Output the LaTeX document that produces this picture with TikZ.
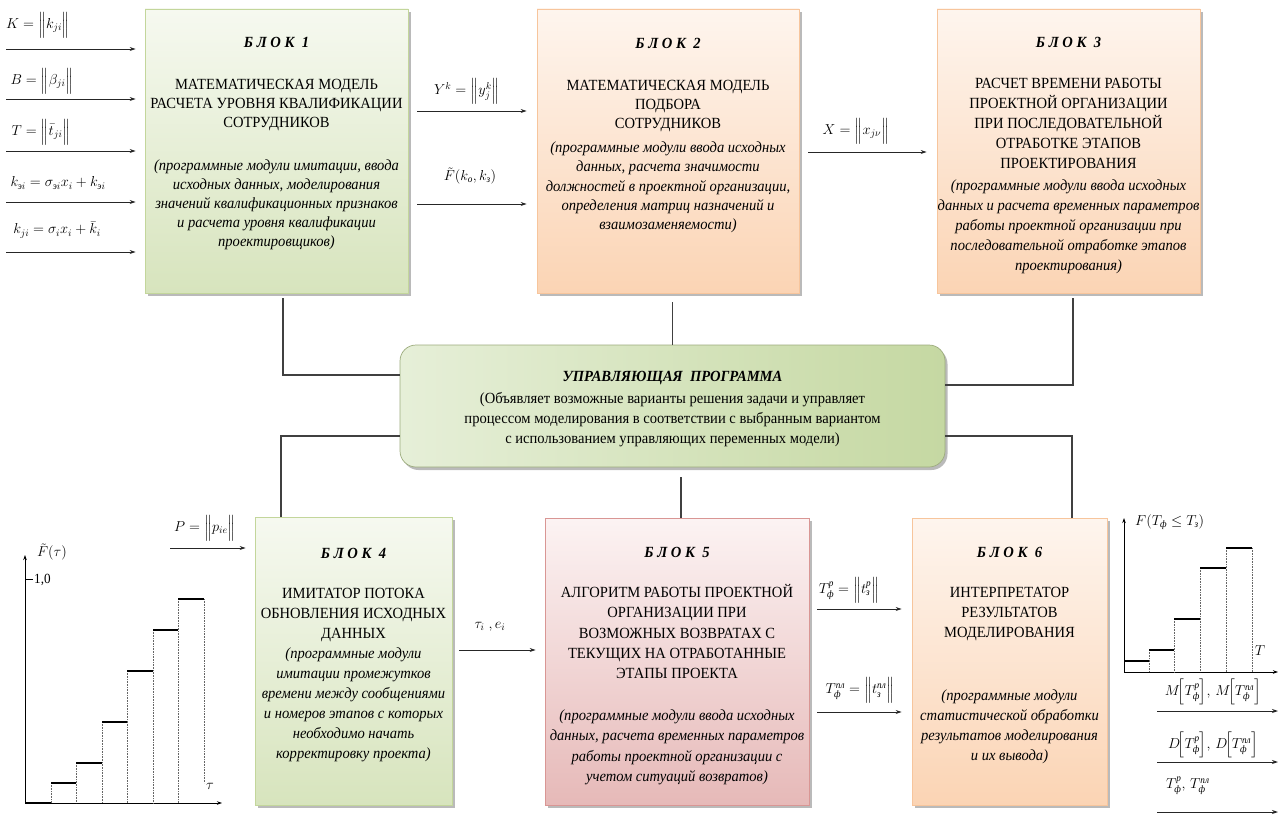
\documentclass[tikz,border=0pt]{standalone}
\usepackage{fontspec}
\usepackage{amsmath}
\setmainfont{Liberation Serif}[FakeStretch=0.94]
\usetikzlibrary{arrows.meta,shadows,calc}
\definecolor{gtop}{HTML}{F6F9F0}
\definecolor{gbot}{HTML}{D7E4BD}
\definecolor{gline}{HTML}{C3D69B}
\definecolor{otop}{HTML}{FEF5EE}
\definecolor{obot}{HTML}{FBD4B4}
\definecolor{oline}{HTML}{F7C59C}
\definecolor{ptop}{HTML}{FCF3F3}
\definecolor{pbot}{HTML}{E6B9B8}
\definecolor{pline}{HTML}{D99694}
\definecolor{cpl}{HTML}{E6EFD8}
\definecolor{cpr}{HTML}{C5D8A2}
\definecolor{connc}{HTML}{404040}
\newcommand\cyrsub[1]{\text{\itshape #1}}
\newcommand\blkttl[1]{\textbf{\textit{#1}}}
\begin{document}
\begin{tikzpicture}[x=1pt,y=-1pt,
  shd/.style={drop shadow={shadow xshift=2.5pt,shadow yshift=-3pt,opacity=0.45,fill=black!60}},
  gbox/.style={shd,draw=gline,line width=0.7pt,top color=gtop,bottom color=gbot,inner sep=0},
  obox/.style={shd,draw=oline,line width=0.7pt,top color=otop,bottom color=obot,inner sep=0},
  pbox/.style={shd,draw=pline,line width=0.7pt,top color=ptop,bottom color=pbot,inner sep=0},
  txt/.style={align=center,inner sep=0,anchor=north,font=\fontsize{15.5}{#1}\selectfont},
  txt/.default=19.5,
  lbl/.style={inner sep=0,font=\fontsize{14}{16}\selectfont},
  arr/.style={draw=black!85,line width=0.9pt,-{Stealth[length=6pt,width=4pt]}},
  conn/.style={draw=connc,line width=1.2pt},
  stepbar/.style={line width=2.2pt,black},
  dots/.style={densely dotted,line width=0.6pt,black!60},
  axis/.style={line width=0.8pt,black,-{Stealth[length=5pt,width=3.5pt]}}]
\useasboundingbox (0,0) rectangle (1280,816);

% ---------- boxes ----------
\node[gbox,minimum width=263pt,minimum height=284pt] (b1) at (276.5,151) {};
\node[obox,minimum width=262pt,minimum height=284pt] (b2) at (668,151) {};
\node[obox,minimum width=263pt,minimum height=284pt] (b3) at (1068.5,151) {};
\node[gbox,minimum width=197pt,minimum height=288pt] (b4) at (353.5,661) {};
\node[pbox,minimum width=264pt,minimum height=287pt] (b5) at (677,661.5) {};
\node[obox,minimum width=195pt,minimum height=287pt] (b6) at (1009.5,661.5) {};
\node[shd,draw=gline!80!black,line width=0.7pt,rounded corners=16pt,left color=cpl,right color=cpr,
      minimum width=545pt,minimum height=122pt,inner sep=0] (cp) at (672.5,406) {};

% ---------- box texts ----------
\node[txt=19] (t1) at (276.5,37) {\blkttl{Б Л О К \ 1}\\[23.5pt]
МАТЕМАТИЧЕСКАЯ МОДЕЛЬ\\
РАСЧЕТА УРОВНЯ КВАЛИФИКАЦИИ\\
СОТРУДНИКОВ\\[24pt]
\textit{(программные модули имитации, ввода}\\
\textit{исходных данных, моделирования}\\
\textit{значений квалификационных признаков}\\
\textit{и расчета уровня квалификации}\\
\textit{проектировщиков)}};

\node[txt=19.2] (t2) at (668,38) {\blkttl{Б Л О К \ 2}\\[22.5pt]
МАТЕМАТИЧЕСКАЯ МОДЕЛЬ\\
ПОДБОРА\\
СОТРУДНИКОВ\\[5pt]
\textit{(программные модули ввода исходных}\\
\textit{данных, расчета значимости}\\
\textit{должностей в проектной организации,}\\
\textit{определения матриц назначений и}\\
\textit{взаимозаменяемости)}};

\node[txt=20] (t3) at (1068.5,37) {\blkttl{Б Л О К \ 3}\\[21pt]
РАСЧЕТ ВРЕМЕНИ РАБОТЫ\\
ПРОЕКТНОЙ ОРГАНИЗАЦИИ\\
ПРИ ПОСЛЕДОВАТЕЛЬНОЙ\\
ОТРАБОТКЕ ЭТАПОВ\\
ПРОЕКТИРОВАНИЯ\\[2pt]
\textit{(программные модули ввода исходных}\\
\textit{данных и расчета временных параметров}\\
\textit{работы проектной организации при}\\
\textit{последовательной отработке этапов}\\
\textit{проектирования)}};

\node[txt=20] (t4) at (353.5,548) {\blkttl{Б Л О К \ 4}\\[20pt]
ИМИТАТОР ПОТОКА\\
ОБНОВЛЕНИЯ ИСХОДНЫХ\\
ДАННЫХ\\
\textit{(программные модули}\\
\textit{имитации промежутков}\\
\textit{времени между сообщениями}\\
\textit{и номеров этапов с которых}\\
\textit{необходимо начать}\\
\textit{корректировку проекта)}};

\node[txt=20.2] (t5) at (677,547) {\blkttl{Б Л О К \ 5}\\[20pt]
АЛГОРИТМ РАБОТЫ ПРОЕКТНОЙ\\
ОРГАНИЗАЦИИ ПРИ\\
ВОЗМОЖНЫХ ВОЗВРАТАХ С\\
ТЕКУЩИХ НА ОТРАБОТАННЫЕ\\
ЭТАПЫ ПРОЕКТА\\[22pt]
\textit{(программные модули ввода исходных}\\
\textit{данных, расчета временных параметров}\\
\textit{работы проектной организации с}\\
\textit{учетом ситуаций возвратов)}};

\node[txt=20] (t6) at (1009.5,547) {\blkttl{Б Л О К \ 6}\\[20pt]
ИНТЕРПРЕТАТОР\\
РЕЗУЛЬТАТОВ\\
МОДЕЛИРОВАНИЯ\\[43pt]
\textit{(программные модули}\\
\textit{статистической обработки}\\
\textit{результатов моделирования}\\
\textit{и их вывода)}};

\node[txt=20] (tc) at (672.5,371) {\blkttl{УПРАВЛЯЮЩАЯ \ ПРОГРАММА}\\[2pt]
(Объявляет возможные варианты решения задачи и управляет\\
процессом моделирования в соответствии с выбранным вариантом\\
с использованием управляющих переменных модели)};

% ---------- connectors to the control program ----------
\coordinate (y375) at (0,375);
\coordinate (y385) at (0,385);
\coordinate (y436) at (0,436);
\draw[conn,shorten <=5pt] ([xshift=6.5pt]b1.south) |- (cp.west |- y375);
\draw[conn,shorten <=9pt] (b2.south -| cp.north) -- (cp.north);
\draw[conn,shorten <=5pt] ([xshift=4.5pt]b3.south) |- (cp.east |- y385);
\draw[conn] (cp.west |- y436) -| ([xshift=-72.5pt]b4.north);
\draw[conn,shorten <=10pt] ([xshift=4pt]b5.north |- cp.south) -- ([xshift=4pt]b5.north);
\draw[conn] (cp.east |- y436) -| ([xshift=62.5pt]b6.north);

% ---------- input arrows to block 1 ----------
\coordinate (in1) at (6,49);
\coordinate (in2) at (6,99);
\coordinate (in3) at (6,151);
\coordinate (in4) at (6,202);
\coordinate (in5) at (6,252);
\foreach \c in {in1,in2,in3,in4,in5}{\draw[arr,shorten >=9pt] (\c) -- (\c -| b1.west);}
\node[lbl] (lK) at (38,25) {$K=\Bigl\|k_{ji}\Bigr\|$};
\node[lbl] (lB) at (42,81) {$B=\Bigl\|\beta_{ji}\Bigr\|$};
\node[lbl] (lT) at (41,132) {$T=\Bigl\|\bar{t}_{ji}\Bigr\|$};
\node[lbl] (lk1) at (58,183) {$k_{\cyrsub{э}i}=\sigma_{\cyrsub{э}i}x_i+k_{\cyrsub{э}i}$};
\node[lbl] (lk2) at (57,230) {$k_{ji}=\sigma_i x_i+\bar{k}_i$};

% ---------- block 1 -> block 2 ----------
\coordinate (y111) at (0,111);
\coordinate (y204) at (0,204);
\draw[arr,shorten <=9pt,shorten >=10pt] (b1.east |- y111) -- (b2.west |- y111);
\draw[arr,shorten <=9pt,shorten >=10pt] (b1.east |- y204) -- (b2.west |- y204);
\node[lbl] (lY) at (467,91) {$Y^k=\Bigl\|y_j^k\Bigr\|$};
\node[lbl] (lF) at (470,176) {$\tilde{F}(k_{\cyrsub{о}},k_{\cyrsub{з}})$};

% ---------- block 2 -> block 3 ----------
\coordinate (y152) at (0,152);
\draw[arr,shorten <=9pt,shorten >=10pt] (b2.east |- y152) -- (b3.west |- y152);
\node[lbl] (lX) at (856,131) {$X=\Bigl\|x_{j\nu}\Bigr\|$};

% ---------- P -> block 4 ----------
\coordinate (pS) at (170,548);
\draw[arr,shorten >=9pt] (pS) -- (pS -| b4.west);
\node[lbl] (lP) at (205,528) {$P=\Bigl\|p_{ie}\Bigr\|$};

% ---------- block 4 -> block 5 ----------
\coordinate (y650) at (0,650);
\draw[arr,shorten <=7pt,shorten >=9pt] (b4.east |- y650) -- (b5.west |- y650);
\node[lbl] (ltau) at (490,627) {$\tau_i\;,e_i$};

% ---------- block 5 -> block 6 ----------
\coordinate (y609) at (0,609);
\coordinate (y712) at (0,712);
\draw[arr,shorten <=8pt,shorten >=10pt] (b5.east |- y609) -- (b6.west |- y609);
\draw[arr,shorten <=8pt,shorten >=10pt] (b5.east |- y712) -- (b6.west |- y712);
\node[lbl] (lT1) at (849,590) {$T_{\cyrsub{ф}}^{\cyrsub{р}}=\Bigl\|t_{\cyrsub{з}}^{\cyrsub{р}}\Bigr\|$};
\node[lbl] (lT2) at (860,690) {$T_{\cyrsub{ф}}^{\cyrsub{пл}}=\Bigl\|t_{\cyrsub{з}}^{\cyrsub{пл}}\Bigr\|$};

% ---------- left chart ----------
\draw[axis] (25,803) -- (25,555);
\draw[axis] (25,803) -- (222,803);
\draw[line width=0.8pt] (25,579) -- (33,579);
\node[lbl,anchor=west] (l10) at (34,580) {1,0};
\node[lbl] (lFt) at (52,552) {$\tilde{F}(\tau)$};
\node[lbl] (ltx) at (210,786) {$\tau$};
\foreach \x/\y in {51/783,76/763,102/722,127/671,153/630,178/599}{\draw[dots] (\x,\y) -- (\x,803);}
\draw[dots] (204,599) -- (204,783);
\draw[stepbar] (25,803) -- (51,803);
\draw[stepbar] (51,783) -- (76,783);
\draw[stepbar] (76,763) -- (102,763);
\draw[stepbar] (102,722) -- (127,722);
\draw[stepbar] (127,671) -- (153,671);
\draw[stepbar] (153,630) -- (178,630);
\draw[stepbar] (178,599) -- (204,599);

% ---------- right chart ----------
\draw[axis] (1124,672) -- (1124,518);
\draw[axis] (1124,672) -- (1278,672);
\node[lbl,anchor=west] (lFT) at (1135,522) {$F(T_{\cyrsub{ф}}\le T_{\cyrsub{з}})$};
\node[lbl] (lTT) at (1260,651) {$T$};
\foreach \x/\y in {1149/650,1174/619,1200/568,1226/548,1252/548}{\draw[dots] (\x,\y) -- (\x,672);}
\draw[stepbar] (1124,661) -- (1149,661);
\draw[stepbar] (1149,650) -- (1174,650);
\draw[stepbar] (1174,619) -- (1200,619);
\draw[stepbar] (1200,568) -- (1226,568);
\draw[stepbar] (1226,548) -- (1252,548);

% ---------- outputs ----------
\coordinate (o1s) at (1157,711); \coordinate (o1e) at (1278,711);
\coordinate (o2s) at (1157,762); \coordinate (o2e) at (1278,762);
\coordinate (o3s) at (1157,812); \coordinate (o3e) at (1278,812);
\draw[arr] (o1s) -- (o1e);
\draw[arr] (o2s) -- (o2e);
\draw[arr] (o3s) -- (o3e);
\node[lbl] (lM) at (1213,692) {$M\!\Bigl[T_{\cyrsub{ф}}^{\cyrsub{р}}\Bigr],\,M\!\Bigl[T_{\cyrsub{ф}}^{\cyrsub{пл}}\Bigr]$};
\node[lbl] (lD) at (1213,745) {$D\!\Bigl[T_{\cyrsub{ф}}^{\cyrsub{р}}\Bigr],\,D\!\Bigl[T_{\cyrsub{ф}}^{\cyrsub{пл}}\Bigr]$};
\node[lbl,anchor=west] (lTo) at (1166,786) {$T_{\cyrsub{ф}}^{\cyrsub{р}},\,T_{\cyrsub{ф}}^{\cyrsub{пл}}$};
\end{tikzpicture}
\end{document}
